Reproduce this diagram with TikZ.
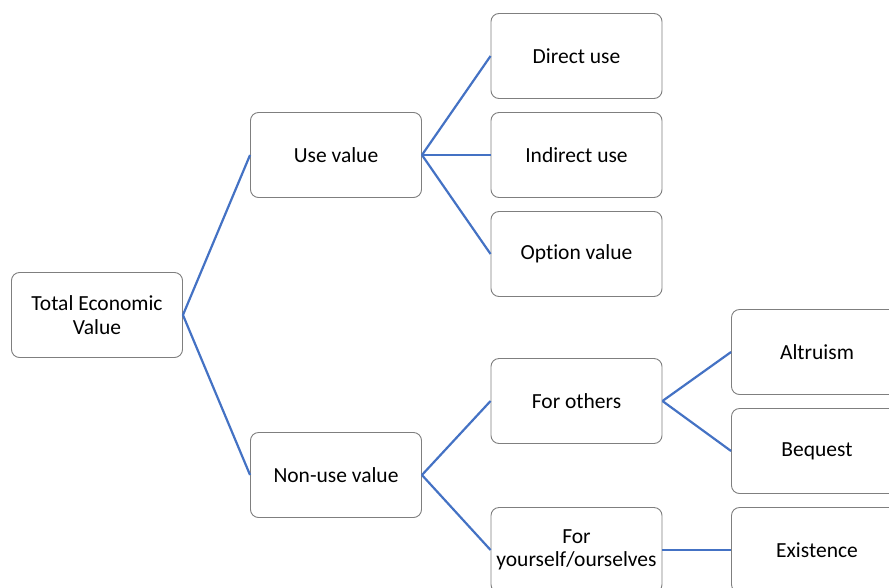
\documentclass[tikz,border=0pt]{standalone}
\usepackage{fontspec}
\setmainfont[Ligatures=NoCommon]{Carlito}
\definecolor{boxline}{HTML}{7F7F7F}
\definecolor{link}{HTML}{4472C4}
\tikzset{
  box/.style={draw=boxline, line width=0.9pt, rounded corners=8pt, fill=white,
    minimum width=171pt, minimum height=85pt, inner sep=0pt, align=center,
    font=\fontsize{21.5}{23.5}\selectfont, text=black},
  conn/.style={draw=link, line width=2.2pt}
}
\begin{document}
\begin{tikzpicture}[x=1pt,y=-1pt]
\useasboundingbox (0,0) rectangle (889,587);
\clip (0,0) rectangle (889,587);
\node[box] (tev) at (97,315) {Total Economic\\Value};
\node[box] (use) at (336,155) {Use value};
\node[box] (non) at (336,475) {Non-use value};
\node[box] (dir) at (576.5,56) {Direct use};
\node[box] (ind) at (576.5,155) {Indirect use};
\node[box] (opt) at (576.5,254) {Option value};
\node[box] (oth) at (576.5,401) {For others};
\node[box] (you) at (576.5,550) {For\\yourself/ourselves};
\node[box] (alt) at (817,352) {Altruism};
\node[box] (beq) at (817,451) {Bequest};
\node[box] (ex) at (817,550) {Existence};
\draw[conn] (tev.east) -- (use.west);
\draw[conn] (tev.east) -- (non.west);
\draw[conn] (use.east) -- (dir.west);
\draw[conn] (use.east) -- (ind.west);
\draw[conn] (use.east) -- (opt.west);
\draw[conn] (non.east) -- (oth.west);
\draw[conn] (non.east) -- (you.west);
\draw[conn] (oth.east) -- (alt.west);
\draw[conn] (oth.east) -- (beq.west);
\draw[conn] (you.east) -- (ex.west);
\end{tikzpicture}
\end{document}
